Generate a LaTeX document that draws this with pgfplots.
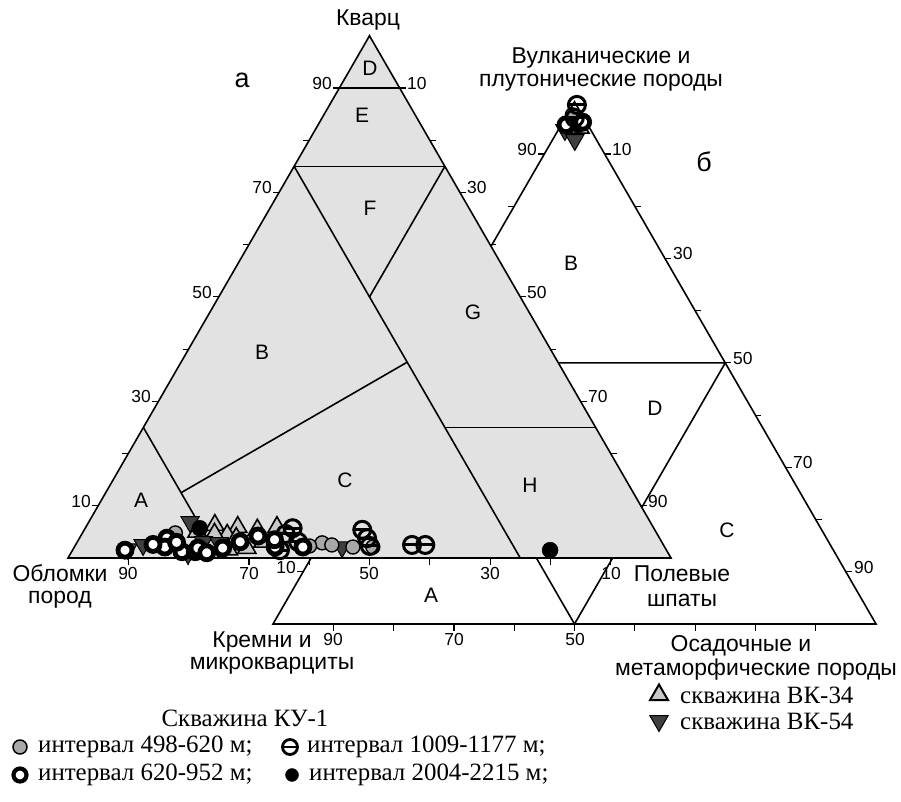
\documentclass[border=0pt]{standalone}
\usepackage{fontspec}
\setmainfont{Liberation Sans}
\newfontfamily\legfont{Liberation Serif}
\usepackage{pgfplots}
\pgfplotsset{compat=1.18}
\usepackage{pgfplotstable}
\definecolor{fillA}{RGB}{226,226,226}
\definecolor{ptgray}{RGB}{168,168,168}
\definecolor{trigray}{RGB}{200,200,200}
\definecolor{invgray}{RGB}{64,64,64}

\pgfdeclareplotmark{ominus}{%
  \pgfpathcircle{\pgfpointorigin}{\pgfplotmarksize}%
  \pgfusepathqstroke
  \pgfpathmoveto{\pgfqpoint{-\pgfplotmarksize}{0pt}}%
  \pgfpathlineto{\pgfqpoint{\pgfplotmarksize}{0pt}}%
  \pgfusepathqstroke}
\pgfdeclareplotmark{tickL}{\pgfpathmoveto{\pgfpointorigin}\pgfpathlineto{\pgfqpoint{-6bp}{0bp}}\pgfusepathqstroke}
\pgfdeclareplotmark{tickR}{\pgfpathmoveto{\pgfpointorigin}\pgfpathlineto{\pgfqpoint{6bp}{0bp}}\pgfusepathqstroke}
\pgfdeclareplotmark{tickD}{\pgfpathmoveto{\pgfpointorigin}\pgfpathlineto{\pgfqpoint{0bp}{-7bp}}\pgfusepathqstroke}

% ternary -> picture coordinates
\pgfplotsset{
  /pgfplots/table/ta/.style={x expr={68+6.03*(\thisrow{F}+0.5*\thisrow{Q})}, y expr={244+5.222*\thisrow{Q}}},
  /pgfplots/table/tb/.style={x expr={273+6.03*(\thisrow{R}+0.5*\thisrow{T})}, y expr={178+5.222*\thisrow{T}}},
  edge/.style={draw=black, line width=1.6bp, no marks},
  tk/.style={only marks, mark options={draw=black, line width=1.2bp}},
  sRing/.style={only marks, mark=*, mark size=7bp, mark options={fill=white, draw=black, line width=4.8bp}},
  sGray/.style={only marks, mark=*, mark size=7bp, mark options={fill=ptgray, draw=black, line width=1.4bp}},
  sMinus/.style={only marks, mark=ominus, mark size=8.5bp, mark options={draw=black, line width=3bp}},
  sBlack/.style={only marks, mark=*, mark size=8bp, mark options={fill=black, draw=black}},
  sTri/.style={only marks, mark=triangle*, mark size=10.5bp, mark options={fill=trigray, draw=black, line width=1.6bp}},
  sInv/.style={only marks, mark=triangle*, mark size=10.5bp, mark options={rotate=180, fill=invgray, draw=black, line width=1bp}},
  lRing/.style={only marks, mark=*, mark size=6.5bp, mark options={fill=white, draw=black, line width=4.2bp}},
  lGray/.style={only marks, mark=*, mark size=7bp, mark options={fill=ptgray, draw=black, line width=1.5bp}},
  lMinus/.style={only marks, mark=ominus, mark size=7.5bp, mark options={draw=black, line width=2.8bp}},
  lBlack/.style={only marks, mark=*, mark size=6.5bp, mark options={fill=black, draw=black}},
  lTri/.style={only marks, mark=triangle*, mark size=10.5bp, mark options={fill=trigray, draw=black, line width=2bp}},
  lInv/.style={only marks, mark=triangle*, mark size=10.5bp, mark options={rotate=180, fill=invgray, draw=black, line width=1bp}},
}

% ---- diagram a: Q (quartz), F (feldspar); lithics = 100-Q-F
\pgfplotstableread{
Q F
1.5 8.7
3.8 14.5
2.1 15.0
1.2 18.3
1.2 20.5
1.9 20.6
1.9 24.7
3.1 27.0
2.1 33.3
2.1 37.9
4.2 29.4
3.0 16.5
1.0 22.5
3.5 32.5
2.6 12.8
}\ringA
\pgfplotstableread{
Q F
4.8 15.4
2.9 40.7
2.5 42.5
2.1 46.2
2.1 49.5
2.3 38.9
}\grayA
\pgfplotstableread{
Q F
5.7 34.4
3.1 36.6
5.4 46.1
3.8 47.7
2.3 48.9
2.5 55.8
2.5 58.0
1.5 34.4
4.6 33.8
}\minusA
\pgfplotstableread{
Q F
1.5 79.2
5.7 19.0
}\blackA
\pgfplotstableread{
Q F
5.0 18.9
6.3 21.2
5.9 25.2
5.4 28.7
4.4 24.2
2.5 22.8
1.9 28.7
5.9 31.7
3.1 30.8
3.8 26.0
1.6 25.8
4.6 22.0
}\triA
\pgfplotstableread{
Q F
1.7 9.1
2.5 11.2
6.9 16.8
3.1 20.9
2.1 44.4
0.8 19.5
2.9 23.6
}\invA
% ---- diagram b: T (volcanic+plutonic), R (sedimentary+metamorphic); chert = 100-T-R
\pgfplotstableread{
T R
99.4 0.7
96.9 1.6
}\minusB
\pgfplotstableread{
T R
95.6 0.8
96.1 3.3
}\ringB
\pgfplotstableread{
T R
94.6 1.1
92.7 3.7
}\invB
\pgfplotstableread{
T R
95.6 2.8
}\blackB
\pgfplotstableread{
T R
97.5 0.9
}\grayB
\pgfplotstableread{
T R
95.0 3.4
}\triB

\begin{document}
\begin{tikzpicture}
\begin{axis}[x=1bp, y=1bp, xmin=0, xmax=901, ymin=0, ymax=802,
  scale only axis, hide axis, clip=false]
\path (axis cs:0,0) rectangle (axis cs:901,802);

% ================= triangle b (drawn first, partly hidden)
\addplot[edge] table[tb,row sep=\\]{T R\\ 0 0\\ 0 100\\ 100 0\\} -- cycle;
\addplot[edge] table[tb,row sep=\\]{T R\\ 50 0\\ 50 50\\ 0 50\\};
\addplot[edge] table[tb,row sep=\\]{T R\\ 50 0\\ 0 50\\};
\addplot[tk, mark=tickL] table[tb,row sep=\\]{T R\\ 10 0\\ 80 0\\ 90 0\\};
\addplot[tk, mark=tickR] table[tb,row sep=\\]{T R\\ 90 10\\ 80 20\\ 70 30\\ 60 40\\ 50 50\\ 40 60\\ 30 70\\ 20 80\\ 10 90\\};
\addplot[tk, mark=tickD] table[tb,row sep=\\]{T R\\ 0 10\\ 0 20\\ 0 30\\ 0 40\\ 0 50\\ 0 60\\ 0 70\\ 0 80\\ 0 90\\};

% ================= triangle a
\addplot[edge, fill=fillA] table[ta,row sep=\\]{Q F\\ 0 0\\ 0 100\\ 100 0\\} -- cycle;
\addplot[edge] table[ta,row sep=\\]{Q F\\ 90 0\\ 90 10\\};
\addplot[edge] table[ta,row sep=\\]{Q F\\ 75 0\\ 75 25\\};
\addplot[edge] table[ta,row sep=\\]{Q F\\ 75 0\\ 0 75\\};
\addplot[edge] table[ta,row sep=\\]{Q F\\ 75 25\\ 50 25\\};
\addplot[edge] table[ta,row sep=\\]{Q F\\ 12.5 12.5\\ 37.5 37.5\\};
\addplot[edge] table[ta,row sep=\\]{Q F\\ 25 0\\ 0 25\\};
\addplot[edge] table[ta,row sep=\\]{Q F\\ 25 50\\ 25 75\\};
\addplot[tk, mark=tickL] table[ta,row sep=\\]{Q F\\ 10 0\\ 20 0\\ 30 0\\ 40 0\\ 50 0\\ 60 0\\ 70 0\\ 80 0\\ 90 0\\};
\addplot[tk, mark=tickR] table[ta,row sep=\\]{Q F\\ 90 10\\ 80 20\\ 70 30\\ 60 40\\ 50 50\\ 40 60\\ 30 70\\ 20 80\\ 10 90\\};
\addplot[tk, mark=tickD] table[ta,row sep=\\]{Q F\\ 0 10\\ 0 20\\ 0 30\\ 0 40\\ 0 50\\ 0 60\\ 0 70\\ 0 80\\ 0 90\\};

% ================= data
\addplot[sTri] table[ta] {\triA};
\addplot[sInv] table[ta] {\invA};
\addplot[sGray] table[ta] {\grayA};
\addplot[sMinus] table[ta] {\minusA};
\addplot[sBlack] table[ta] {\blackA};
\addplot[sRing] table[ta] {\ringA};

\addplot[sTri] table[tb] {\triB};
\addplot[sInv] table[tb] {\invB};
\addplot[sGray] table[tb] {\grayB};
\addplot[sBlack] table[tb] {\blackB};
\addplot[sRing] table[tb] {\ringB};
\addplot[sMinus] table[tb] {\minusB};

% ================= legend symbols
\addplot[lGray] coordinates {(20,55)};
\addplot[lMinus] coordinates {(290,55)};
\addplot[lRing] coordinates {(20,27)};
\addplot[lBlack] coordinates {(292,27)};
\addplot[lTri] coordinates {(659,107)};
\addplot[lInv] coordinates {(659,81)};

% ================= tick labels
\begin{scope}[every node/.style={font=\fontsize{17.5}{19}\selectfont, inner sep=0pt}]
% a left (quartz)
\node[anchor=east] at (axis cs:332,718) {90};
\node[anchor=east] at (axis cs:272,614) {70};
\node[anchor=east] at (axis cs:212,509) {50};
\node[anchor=east] at (axis cs:151,405) {30};
\node[anchor=east] at (axis cs:91,300) {10};
% a right (feldspar)
\node[anchor=west] at (axis cs:407,718) {10};
\node[anchor=west] at (axis cs:467,614) {30};
\node[anchor=west] at (axis cs:527,509) {50};
\node[anchor=west] at (axis cs:588,405) {70};
\node[anchor=west] at (axis cs:648,300) {90};
% a bottom (lithics)
\node[anchor=north] at (axis cs:128,235) {90};
\node[anchor=north] at (axis cs:249,235) {70};
\node[anchor=north] at (axis cs:369,235) {50};
\node[anchor=north] at (axis cs:490,235) {30};
\node[anchor=north] at (axis cs:611,235) {10};
% b left
\node[anchor=east] at (axis cs:537,652) {90};
\node[anchor=east] at (axis cs:296,234) {10};
% b right
\node[anchor=west] at (axis cs:612,652) {10};
\node[anchor=west] at (axis cs:673,548) {30};
\node[anchor=west] at (axis cs:733,443) {50};
\node[anchor=west] at (axis cs:793,339) {70};
\node[anchor=west] at (axis cs:854,234) {90};
% b bottom
\node[anchor=north] at (axis cs:333,169) {90};
\node[anchor=north] at (axis cs:454,169) {70};
\node[anchor=north] at (axis cs:575,169) {50};
\end{scope}

% ================= field letters
\begin{scope}[every node/.style={font=\fontsize{21}{23}\selectfont, inner sep=0pt}]
\node at (axis cs:370,734) {D};
\node at (axis cs:362,687) {E};
\node at (axis cs:370,594) {F};
\node at (axis cs:262,450) {B};
\node at (axis cs:473,490) {G};
\node at (axis cs:345,322) {C};
\node at (axis cs:141,302) {A};
\node at (axis cs:530,317) {H};
\node at (axis cs:571,539) {B};
\node at (axis cs:655,394) {D};
\node at (axis cs:727,272) {C};
\node at (axis cs:431,207) {A};
\end{scope}

% ================= vertex labels
\begin{scope}[every node/.style={font=\fontsize{23}{26}\selectfont, inner sep=0pt}]
\node at (axis cs:368,782) {Кварц};
\node at (axis cs:601,744) {Вулканические и};
\node at (axis cs:601,719) {плутонические породы};
\node at (axis cs:60,229) {Обломки};
\node at (axis cs:60,202) {пород};
\node at (axis cs:682,228) {Полевые};
\node at (axis cs:682,202) {шпаты};
\node at (axis cs:262,160) {Кремни и};
\node at (axis cs:272,136) {микрокварциты};
\node at (axis cs:741,156) {Осадочные и};
\node at (axis cs:756,132) {метаморфические породы};
\node[font=\fontsize{27}{30}\selectfont] at (axis cs:242,722) {а};
\node[font=\fontsize{27}{30}\selectfont] at (axis cs:704,640) {б};
\end{scope}

% ================= legend text
\begin{scope}[every node/.style={font=\legfont\fontsize{25}{28}\selectfont, inner sep=0pt}]
\node at (axis cs:245,84) {Скважина КУ-1};
\node[anchor=west] at (axis cs:38,55) {интервал 498-620 м;};
\node[anchor=west] at (axis cs:307,55) {интервал 1009-1177 м;};
\node[anchor=west] at (axis cs:38,27) {интервал 620-952 м;};
\node[anchor=west] at (axis cs:309,27) {интервал 2004-2215 м;};
\node[anchor=west] at (axis cs:680,107) {скважина ВК-34};
\node[anchor=west] at (axis cs:680,81) {скважина ВК-54};
\end{scope}
\end{axis}
\end{tikzpicture}
\end{document}
